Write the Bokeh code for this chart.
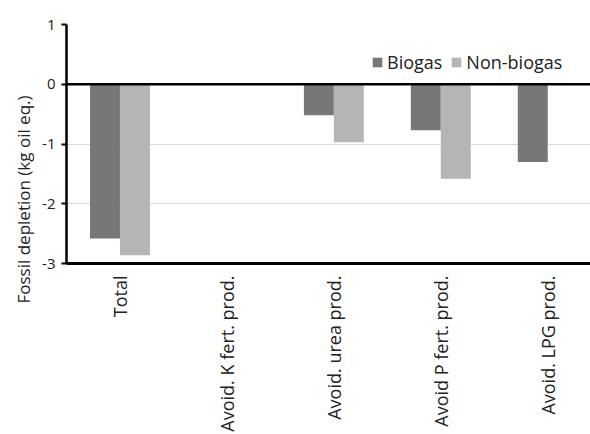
import math
from bokeh.plotting import figure
from bokeh.models import ColumnDataSource, FixedTicker, Span, Legend, LegendItem, Title
from bokeh.transform import dodge
from bokeh.embed import file_html
from bokeh.resources import INLINE

categories = ["Total", "Avoid. K fert. prod.", "Avoid. urea prod.", "Avoid P fert. prod.", "Avoid. LPG prod."]
biogas = [-2.58, -0.01, -0.52, -0.77, -1.30]
non_biogas = [-2.86, -0.01, -0.97, -1.58, 0.0]
y_ticks = [1, 0, -1, -2, -3]
y_title = "Fossil depletion (kg oil eq.)"

xpos = list(range(len(categories)))
src = ColumnDataSource(dict(x=xpos, biogas=biogas, non_biogas=non_biogas))

FONT = "Open Sans"
p = figure(width=590, height=434, output_backend="svg", toolbar_location=None,
           x_range=(-0.5, 4.4), y_range=(-3, 1),
           min_border_left=66, min_border_right=0, min_border_top=24, min_border_bottom=169)
p.outline_line_color = None
p.background_fill_color = "white"

w = 0.28
r1 = p.vbar(x=dodge("x", -w / 2), top="biogas", bottom=0, width=w, source=src,
            fill_color="#777777", line_color=None)
r2 = p.vbar(x=dodge("x", w / 2), top="non_biogas", bottom=0, width=w, source=src,
            fill_color="#b5b5b5", line_color=None)

p.add_layout(Span(location=0, dimension="width", line_color="black", line_width=2.5))

p.xgrid.grid_line_color = None
p.ygrid.grid_line_color = "#d9d9d9"
p.ygrid.grid_line_width = 1.2

p.yaxis.ticker = FixedTicker(ticks=y_ticks)
p.yaxis.major_label_overrides = {t: str(t) for t in y_ticks}
p.yaxis.axis_line_width = 2.5
p.yaxis.axis_line_color = "black"
p.yaxis.major_tick_line_width = 2
p.yaxis.major_tick_out = 5
p.yaxis.major_tick_in = 0
p.yaxis.minor_tick_line_color = None
p.yaxis.major_label_text_font = FONT
p.yaxis.major_label_text_font_size = "15px"
p.yaxis.major_label_text_color = "#222222"
p.yaxis.major_label_standoff = 6

p.add_layout(Title(text=y_title, align="left", offset=-40, standoff=10,
                   text_font=FONT, text_font_size="17px", text_font_style="normal",
                   text_color="#222222"), "left")

p.xaxis.ticker = FixedTicker(ticks=xpos)
p.xaxis.major_label_overrides = {i: c for i, c in enumerate(categories)}
p.xaxis.major_label_orientation = math.pi / 2
p.xaxis.axis_line_width = 3
p.xaxis.axis_line_color = "black"
p.xaxis.major_tick_line_color = None
p.xaxis.minor_tick_line_color = None
p.xaxis.major_label_standoff = 6
p.xaxis.major_label_text_font = FONT
p.xaxis.major_label_text_font_size = "18px"
p.xaxis.major_label_text_color = "#222222"

legend = Legend(items=[LegendItem(label="Biogas", renderers=[r1]),
                       LegendItem(label="Non-biogas", renderers=[r2])],
                orientation="horizontal", location=(305, 189))
legend.background_fill_alpha = 0
legend.border_line_color = None
legend.label_text_font = FONT
legend.label_text_font_size = "18px"
legend.label_text_color = "#222222"
legend.glyph_width = 12
legend.glyph_height = 12
legend.label_standoff = 4
legend.spacing = 8
legend.padding = 2
legend.margin = 0
p.add_layout(legend, "center")

open("out.html", "w").write(file_html(p, INLINE))
